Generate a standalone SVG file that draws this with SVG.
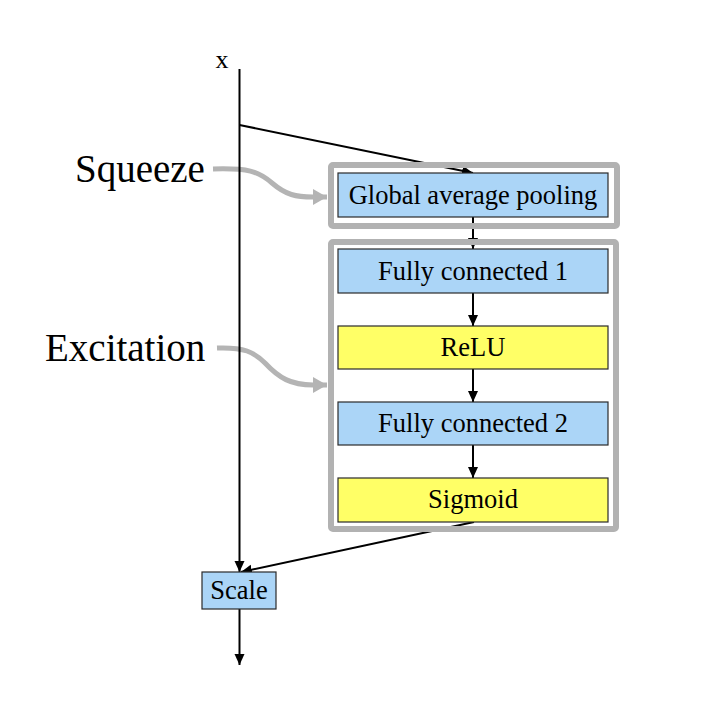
<svg xmlns="http://www.w3.org/2000/svg" width="725" height="720" viewBox="0 0 725 720">
<style>
  .bg { fill: #ffffff; }
  .lbl { font-family: "Liberation Serif", "Times New Roman", "DejaVu Serif", serif; fill: #000; }
  .big { font-size: 39px; }
  .txt { font-size: 26.5px; text-anchor: middle; }
  .blue { fill: #abd5f7; stroke: #2a2a2a; stroke-width: 1.2; }
  .yellow { fill: #ffff66; stroke: #2a2a2a; stroke-width: 1.2; }
  .frame { fill: none; stroke: #b2b2b2; stroke-width: 6; }
  .conn { fill: none; stroke: #000; stroke-width: 2; }
  .garrow { fill: none; stroke: #b4b4b4; stroke-width: 5; }
</style>
<defs>
  <marker id="ah" markerUnits="userSpaceOnUse" markerWidth="12" markerHeight="12" refX="11" refY="5" orient="auto">
    <path d="M0,0 L11,5 L0,10 z" fill="#000"/>
  </marker>
  <marker id="gh" markerUnits="userSpaceOnUse" markerWidth="16" markerHeight="18" refX="14" refY="8" orient="auto">
    <path d="M0,0 L14,8 L0,16 z" fill="#b4b4b4"/>
  </marker>
</defs>
<rect class="bg" x="0" y="0" width="725" height="720"/>

<g id="label-arrows">
  <path class="garrow" d="M213,169 C248,168 258,171 272,183 C286,195 296,197 313,197 L327,197" marker-end="url(#gh)"/>
  <path class="garrow" d="M217,348 C244,347 254,352 265,363 C279,378 291,385 313,385 L327,385" marker-end="url(#gh)"/>
</g>

<g id="labels">
  <text class="lbl" x="222" y="68" font-size="26" text-anchor="middle">x</text>
  <text class="lbl big" x="75" y="182">Squeeze</text>
  <text class="lbl big" x="45" y="361">Excitation</text>
</g>

<g id="connectors">
  <line class="conn" x1="239.5" y1="69" x2="239.5" y2="572" marker-end="url(#ah)"/>
  <line class="conn" x1="239.5" y1="125" x2="473" y2="173" marker-end="url(#ah)"/>
  <line class="conn" x1="473" y1="217" x2="473" y2="249" marker-end="url(#ah)"/>
  <line class="conn" x1="473" y1="293" x2="473" y2="326" marker-end="url(#ah)"/>
  <line class="conn" x1="473" y1="369" x2="473" y2="402" marker-end="url(#ah)"/>
  <line class="conn" x1="473" y1="445" x2="473" y2="478" marker-end="url(#ah)"/>
  <line class="conn" x1="474" y1="522" x2="241" y2="572" marker-end="url(#ah)"/>
  <line class="conn" x1="239.5" y1="609" x2="239.5" y2="665" marker-end="url(#ah)"/>
</g>

<g id="frames">
  <rect id="squeeze-frame" class="frame" x="331" y="165" width="286" height="61" rx="2"/>
  <rect id="excitation-frame" class="frame" x="331" y="242" width="285" height="287" rx="2"/>
</g>

<g id="gap">
  <rect class="blue" x="338" y="173" width="270" height="44"/>
  <text class="lbl txt" x="473" y="204">Global average pooling</text>
</g>
<g id="fc1">
  <rect class="blue" x="338" y="249" width="270" height="44"/>
  <text class="lbl txt" x="473" y="280">Fully connected 1</text>
</g>
<g id="relu">
  <rect class="yellow" x="338" y="326" width="270" height="43"/>
  <text class="lbl txt" x="473" y="356">ReLU</text>
</g>
<g id="fc2">
  <rect class="blue" x="338" y="402" width="270" height="43"/>
  <text class="lbl txt" x="473" y="432">Fully connected 2</text>
</g>
<g id="sigmoid">
  <rect class="yellow" x="338" y="478" width="270" height="44"/>
  <text class="lbl txt" x="473" y="508">Sigmoid</text>
</g>
<g id="scale">
  <rect class="blue" x="202" y="572" width="74" height="37"/>
  <text class="lbl txt" x="239" y="599">Scale</text>
</g>
</svg>
